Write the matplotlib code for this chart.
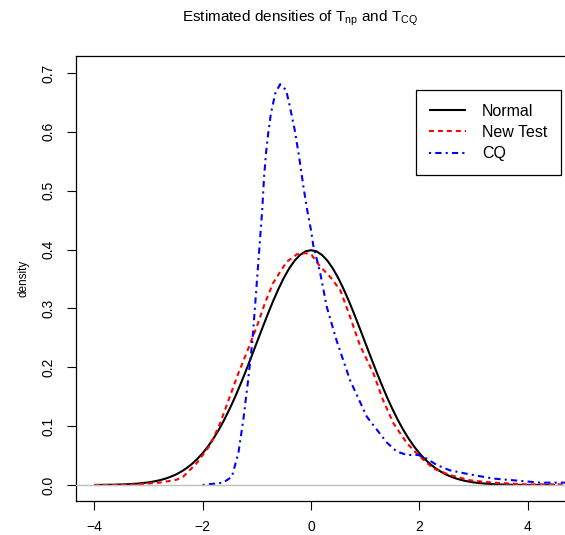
import matplotlib
matplotlib.use("Agg")
import matplotlib.pyplot as plt

plt.rcParams['font.family'] = ['Liberation Sans', 'DejaVu Sans']

# Normal density
normal_x = [-4.0, -3.8, -3.6, -3.4, -3.2, -3.0, -2.9, -2.8, -2.7, -2.6, -2.5, -2.4, -2.3, -2.2, -2.1,
            -2.0, -1.9, -1.8, -1.7, -1.6, -1.5, -1.4, -1.3, -1.2, -1.1, -1.0, -0.9, -0.8, -0.7,
            -0.6, -0.5, -0.4, -0.3, -0.2, -0.1, 0.0, 0.1, 0.2, 0.3, 0.4, 0.5, 0.6, 0.7, 0.8, 0.9,
            1.0, 1.1, 1.2, 1.3, 1.4, 1.5, 1.6, 1.7, 1.8, 1.9, 2.0, 2.1, 2.2, 2.3, 2.4, 2.5, 2.6,
            2.7, 2.8, 2.9, 3.0, 3.2, 3.4, 3.6, 3.8, 4.0, 4.5]
normal_y = [0.0001, 0.0003, 0.0006, 0.0012, 0.0024, 0.0044, 0.0060, 0.0079, 0.0104, 0.0136, 0.0175,
            0.0224, 0.0283, 0.0355, 0.0440, 0.0540, 0.0656, 0.0790, 0.0940, 0.1109, 0.1295, 0.1497,
            0.1714, 0.1942, 0.2179, 0.2420, 0.2661, 0.2897, 0.3123, 0.3332, 0.3521, 0.3683, 0.3814,
            0.3910, 0.3970, 0.3989, 0.3970, 0.3910, 0.3814, 0.3683, 0.3521, 0.3332, 0.3123, 0.2897,
            0.2661, 0.2420, 0.2179, 0.1942, 0.1714, 0.1497, 0.1295, 0.1109, 0.0940, 0.0790, 0.0656,
            0.0540, 0.0440, 0.0355, 0.0283, 0.0224, 0.0175, 0.0136, 0.0104, 0.0079, 0.0060, 0.0044,
            0.0024, 0.0012, 0.0006, 0.0003, 0.0001, 0.0000]

# New Test estimated density
new_x = [-4.0, -3.4, -2.79, -2.48, -2.36, -2.11, -1.86, -1.68, -1.49, -1.34, -1.19, -1.00, -0.85,
         -0.70, -0.57, -0.45, -0.26, -0.10, 0.01, 0.17, 0.35, 0.54, 0.72, 0.90, 1.15, 1.33, 1.52,
         1.77, 2.01, 2.26, 2.56, 2.93, 3.36, 3.98, 4.7]
new_y = [0.0, 0.0, 0.004, 0.009, 0.014, 0.037, 0.068, 0.104, 0.152, 0.190, 0.224, 0.269, 0.309,
         0.343, 0.362, 0.379, 0.392, 0.394, 0.391, 0.371, 0.354, 0.331, 0.286, 0.238, 0.190, 0.144,
         0.105, 0.071, 0.048, 0.028, 0.017, 0.008, 0.004, 0.001, 0.001]

# CQ estimated density
cq_x = [-2.0, -1.62, -1.46, -1.34, -1.25, -1.16, -1.08, -1.01, -0.94, -0.90, -0.87, -0.83, -0.79,
        -0.74, -0.66, -0.57, -0.46, -0.39, -0.30, -0.22, -0.14, -0.07, 0.0, 0.04, 0.17, 0.29, 0.47,
        0.72, 1.03, 1.24, 1.40, 1.58, 1.77, 1.98, 2.13, 2.32, 2.56, 2.93, 3.36, 3.86, 4.23, 4.7]
cq_y = [0.0, 0.004, 0.014, 0.054, 0.110, 0.178, 0.246, 0.331, 0.418, 0.467, 0.518, 0.564, 0.597,
        0.631, 0.665, 0.681, 0.671, 0.643, 0.603, 0.558, 0.507, 0.467, 0.433, 0.408, 0.360, 0.303,
        0.246, 0.178, 0.116, 0.091, 0.072, 0.057, 0.051, 0.051, 0.045, 0.034, 0.025, 0.018, 0.011,
        0.007, 0.004, 0.004]

xticks = [-4, -2, 0, 2, 4]
yticks = [0.0, 0.1, 0.2, 0.3, 0.4, 0.5, 0.6, 0.7]

W, H = 565, 535
fig = plt.figure(figsize=(W / 100, H / 100), dpi=100)
left, right, top, bottom = 76, 600, 56, 501
ax = fig.add_axes([left / W, 1 - bottom / H, (right - left) / W, (bottom - top) / H])

sx = 54.2
x0 = 311
ax.set_xlim((left - x0) / sx, (right - x0) / sx)
sy = 588.6
y0 = 485
ax.set_ylim((y0 - bottom) / sy, (y0 - top) / sy)

ax.plot(normal_x, normal_y, color='black', lw=1.5, label='Normal', solid_capstyle='butt')
ax.plot(new_x, new_y, color='red', lw=1.5, linestyle=(0, (2.4, 1.9)), label='New Test')
ax.plot(cq_x, cq_y, color='blue', lw=1.5, linestyle=(0, (1, 2, 3, 2)), label='CQ')
ax.axhline(0, color='#bebebe', lw=1.0, zorder=5)

ax.set_xticks(xticks)
ax.set_xticklabels(['\u22124', '\u22122', '0', '2', '4'])
ax.set_yticks(yticks)
ax.set_yticklabels(['%.1f' % v for v in yticks], rotation=90, va='center')
ax.tick_params(direction='out', length=6.5, width=0.8, labelsize=10, pad=7, colors='black')
ax.tick_params(axis='y', pad=8)
for s in ax.spines.values():
    s.set_linewidth(0.9)

ax.set_ylabel('density', fontsize=8.5, labelpad=9)

fig.text(300 / W, 1 - 18 / H, r'Estimated densities of T$_{\mathregular{np}}$ and T$_{\mathregular{CQ}}$',
         ha='center', va='center', fontsize=11)

leg = ax.legend(loc='upper right', bbox_to_anchor=(561 / W, 1 - 90 / H),
                bbox_transform=fig.transFigure, fontsize=11.5, frameon=True, fancybox=False,
                edgecolor='black', framealpha=1, borderpad=0.85, handlelength=2.3,
                handletextpad=1.0, labelspacing=0.4, borderaxespad=0)
leg.get_frame().set_linewidth(0.9)

fig.savefig('out.png', dpi=100)
